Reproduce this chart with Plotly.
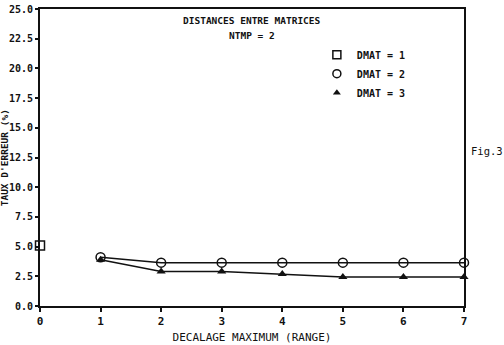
import plotly.graph_objects as go

x_dmat1 = [0]
y_dmat1 = [5.1]
x_range = [1, 2, 3, 4, 5, 6, 7]
y_dmat2 = [4.1, 3.65, 3.65, 3.65, 3.65, 3.65, 3.65]
y_dmat3 = [3.9, 2.9, 2.9, 2.7, 2.45, 2.45, 2.45]
x_ticks = [0, 1, 2, 3, 4, 5, 6, 7]
y_ticks = [0, 2.5, 5, 7.5, 10, 12.5, 15, 17.5, 20, 22.5, 25]
y_ticklabels = ["0.0", "2.5", "5.0", "7.5", "10.0", "12.5", "15.0", "17.5", "20.0", "22.5", "25.0"]

FONT = "DejaVu Sans Mono"
BLACK = "#111111"

fig = go.Figure()
fig.add_trace(go.Scatter(x=x_dmat1, y=y_dmat1, mode="markers", showlegend=False, cliponaxis=False,
                         marker=dict(symbol="square-open", size=9, color=BLACK, line=dict(width=1.5))))
fig.add_trace(go.Scatter(x=x_range, y=y_dmat2, mode="lines+markers", showlegend=False, cliponaxis=False,
                         line=dict(color=BLACK, width=1.5),
                         marker=dict(symbol="circle-open", size=9, color=BLACK, line=dict(width=1.5))))
fig.add_trace(go.Scatter(x=x_range, y=y_dmat3, mode="lines+markers", showlegend=False, cliponaxis=False,
                         line=dict(color=BLACK, width=1.5),
                         marker=dict(symbol="triangle-up", size=8, color=BLACK)))
# legend-only entries (markers only)
fig.add_trace(go.Scatter(x=[None], y=[None], mode="markers", name="DMAT = 1",
                         marker=dict(symbol="square-open", size=8, color=BLACK, line=dict(width=1.5))))
fig.add_trace(go.Scatter(x=[None], y=[None], mode="markers", name="DMAT = 2",
                         marker=dict(symbol="circle-open", size=8, color=BLACK, line=dict(width=1.5))))
fig.add_trace(go.Scatter(x=[None], y=[None], mode="markers", name="DMAT = 3",
                         marker=dict(symbol="triangle-up", size=7, color=BLACK)))

fig.update_layout(
    width=504, height=345,
    margin=dict(l=40, r=40, t=3, b=36),
    paper_bgcolor="white", plot_bgcolor="white",
    font=dict(family=FONT, color=BLACK, size=11),
    showlegend=True,
    legend=dict(x=0.653, y=0.895, xanchor="left", yanchor="top",
                font=dict(family=FONT, size=10, weight="bold"),
                tracegroupgap=0, itemwidth=30, bgcolor="rgba(0,0,0,0)"),
    xaxis=dict(range=[0, 7], tickvals=x_ticks, ticks="outside", ticklen=4, tickwidth=1.5,
               tickcolor=BLACK, showline=True, linecolor=BLACK, linewidth=2, mirror=True,
               showgrid=False, zeroline=False, ticklabeloverflow="allow",
               tickfont=dict(family=FONT, size=11, weight="bold"),
               title=dict(text="DECALAGE MAXIMUM (RANGE)", font=dict(family=FONT, size=11), standoff=6)),
    yaxis=dict(range=[0, 25], tickvals=y_ticks, ticktext=y_ticklabels, ticks="outside", ticklen=3,
               tickwidth=1.5, tickcolor=BLACK, showline=True, linecolor=BLACK, linewidth=2, mirror=True,
               showgrid=False, zeroline=False, ticklabeloverflow="allow",
               tickfont=dict(family=FONT, size=10, weight="bold")),
    annotations=[
        dict(text="<b>DISTANCES ENTRE MATRICES</b>", xref="paper", yref="paper", x=0.5, y=0.961,
             yanchor="middle", showarrow=False, font=dict(family=FONT, size=9.5)),
        dict(text="<b>NTMP = 2</b>", xref="paper", yref="paper", x=0.5, y=0.912,
             yanchor="middle", showarrow=False, font=dict(family=FONT, size=9.5)),
        dict(text="TAUX D'ERREUR (%)", xref="paper", yref="paper", x=-0.083, y=0.5,
             xanchor="center", yanchor="middle", textangle=-90, showarrow=False,
             font=dict(family=FONT, size=9.5, weight="bold")),
        dict(text="Fig.3", xref="paper", yref="paper", x=1.012, y=0.523,
             xanchor="left", yanchor="middle", showarrow=False, font=dict(family=FONT, size=10.5)),
    ],
)

fig.write_html("out.html")
